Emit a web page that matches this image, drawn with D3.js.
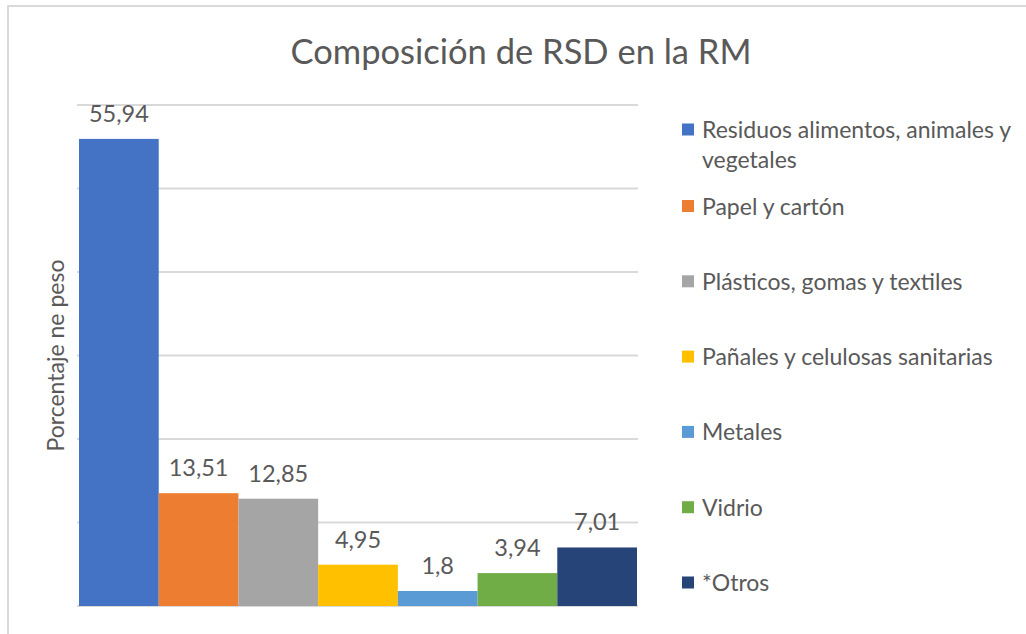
<!DOCTYPE html>
<meta charset="utf-8">
<script src="https://d3js.org/d3.v7.min.js"></script>
<style>
  body { margin: 0; background: #fff; }
  text { font-family: Lato, "Noto Sans", sans-serif; fill: #595959; }
</style>
<div id="my_dataviz"></div>
<script>

// data
var categories = ["Residuos alimentos, animales y vegetales", "Papel y cartón",
  "Plásticos, gomas y textiles", "Pañales y celulosas sanitarias",
  "Metales", "Vidrio", "*Otros"]
var values = [55.94, 13.51, 12.85, 4.95, 1.8, 3.94, 7.01]
var valueLabels = ["55,94", "13,51", "12,85", "4,95", "1,8", "3,94", "7,01"]
var legendLines = [["Residuos alimentos, animales y", "vegetales"], ["Papel y cartón"],
  ["Plásticos, gomas y textiles"], ["Pañales y celulosas sanitarias"],
  ["Metales"], ["Vidrio"], ["*Otros"]]
var yTicks = [0, 10, 20, 30, 40, 50, 60]

var colors = ["#4472C4", "#ED7D31", "#A5A5A5", "#FFC000", "#5B9BD5", "#70AD47", "#264478"]

var W = 1026, H = 634

var svg = d3.select("#my_dataviz")
  .append("svg")
    .attr("width", W)
    .attr("height", H)

// chart border (only left and top edges fall inside the picture)
svg.append("rect")
  .attr("x", 8).attr("y", 6)
  .attr("width", 1100).attr("height", 700)
  .attr("fill", "none")
  .attr("stroke", "#d9d9d9")
  .attr("stroke-width", 2)

// title
svg.append("text")
  .attr("x", 521)
  .attr("y", 64)
  .attr("text-anchor", "middle")
  .style("font-size", "34.5px")
  .text("Composición de RSD en la RM")

// scales
var x = d3.scaleBand()
  .domain(categories)
  .range([79, 637])
  .padding(0)

var y = d3.scaleLinear()
  .domain([0, 60])
  .range([606, 105])

// gridlines
svg.append("g")
  .selectAll("line")
  .data(yTicks)
  .enter()
  .append("line")
    .attr("x1", 77)
    .attr("x2", 638)
    .attr("y1", function(d) { return y(d) })
    .attr("y2", function(d) { return y(d) })
    .attr("stroke", "#d9d9d9")
    .attr("stroke-width", 2)

// bars
svg.append("g")
  .selectAll("rect")
  .data(values)
  .enter()
  .append("rect")
    .attr("x", function(d, i) { return x(categories[i]) })
    .attr("width", x.bandwidth())
    .attr("y", function(d) { return y(d) })
    .attr("height", function(d) { return y(0) - y(d) })
    .attr("fill", function(d, i) { return colors[i] })

// value labels
svg.append("g")
  .selectAll("text")
  .data(values)
  .enter()
  .append("text")
    .attr("x", function(d, i) { return x(categories[i]) + x.bandwidth() / 2 })
    .attr("y", function(d) { return y(d) - 17 })
    .attr("text-anchor", "middle")
    .style("font-size", "23.5px")
    .text(function(d, i) { return valueLabels[i] })

// y axis title
svg.append("text")
  .attr("transform", "rotate(-90)")
  .attr("x", -(y(0) + y(60)) / 2)
  .attr("y", 64)
  .attr("text-anchor", "middle")
  .style("font-size", "23px")
  .text("Porcentaje ne peso")

// legend
var legendY = function(i) { return i == 0 ? 130 : 206.5 + (i - 1) * 75.3 }
var legend = svg.append("g")
  .selectAll("g")
  .data(categories)
  .enter()
  .append("g")
    .attr("transform", function(d, i) { return "translate(682," + legendY(i) + ")" })

legend.append("rect")
  .attr("x", 0).attr("y", -6.5)
  .attr("width", 12).attr("height", 12)
  .attr("fill", function(d, i) { return colors[i] })

legend.append("text")
  .attr("x", 20)
  .attr("y", 8)
  .style("font-size", "23px")
  .selectAll("tspan")
  .data(function(d, i) { return legendLines[i] })
  .enter()
  .append("tspan")
    .attr("x", 20)
    .attr("dy", function(d, j) { return j == 0 ? 0 : 30 })
    .text(function(d) { return d })

</script>
